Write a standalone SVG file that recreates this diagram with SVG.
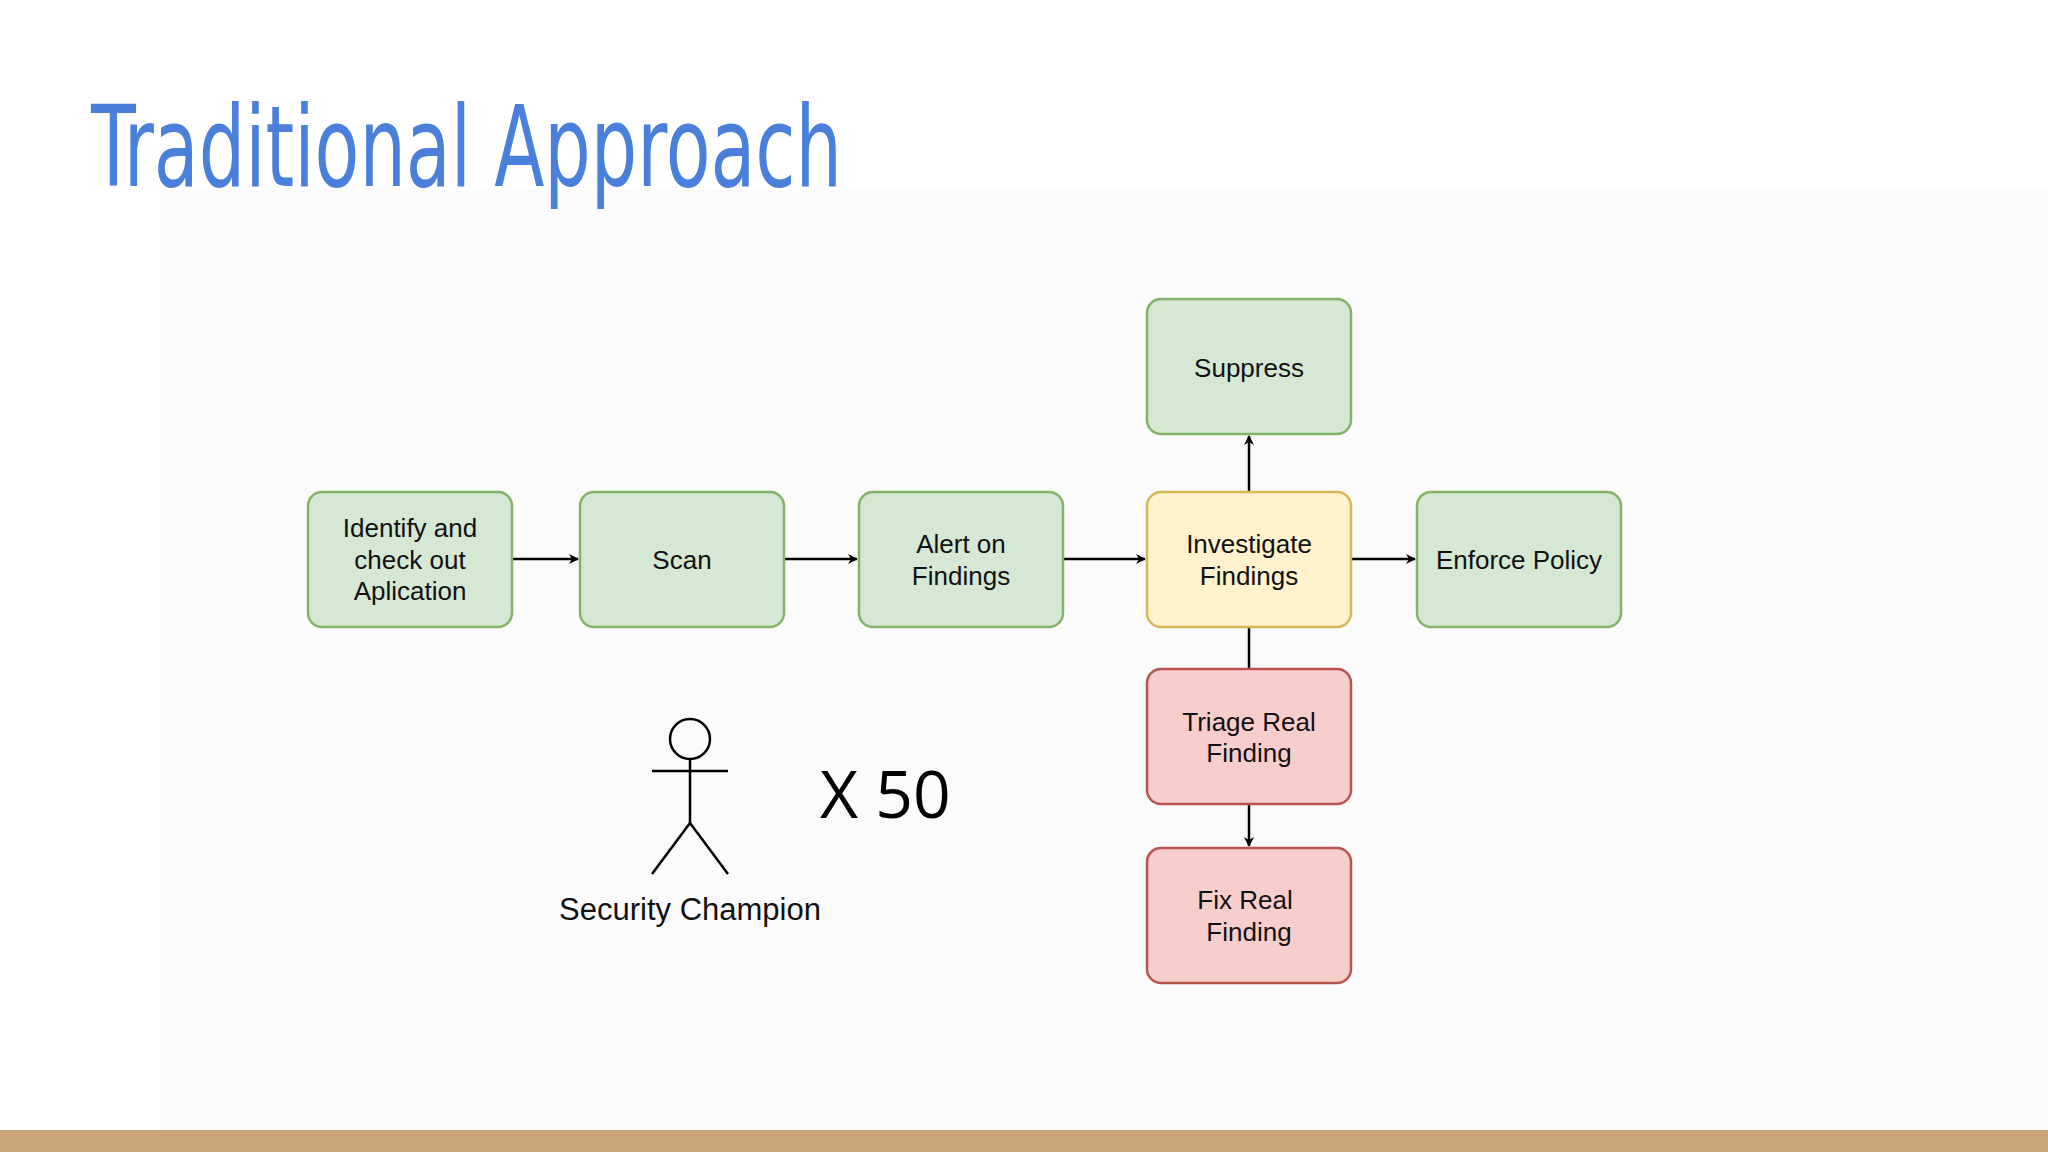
<svg xmlns="http://www.w3.org/2000/svg" width="2048" height="1152" viewBox="0 0 2048 1152">
<defs>
<style>
.g{fill:#d5e8d4;stroke:#82b366;stroke-width:2.5}
.y{fill:#fff2cc;stroke:#d6b656;stroke-width:2.5}
.r{fill:#f8cecc;stroke:#b85450;stroke-width:2.5}
.t{font-family:"Liberation Sans",Arial,sans-serif;font-size:26px;fill:#111;text-anchor:middle}
.c{stroke:#000;stroke-width:2.5;fill:none}
</style>
<marker id="a" markerWidth="10" markerHeight="10" refX="9" refY="5" orient="auto" markerUnits="userSpaceOnUse" viewBox="0 0 10 10"><path d="M0,0 L10,5 L0,10 L3,5 Z" fill="#000"/></marker>
</defs>
<rect width="2048" height="1152" fill="#fff"/>
<rect x="160" y="190" width="1888" height="940" fill="#fbfbfb"/>
<rect x="0" y="1130" width="2048" height="22" fill="#c9a67a"/>
<text x="91" y="186" font-family="'DejaVu Sans Condensed','DejaVu Sans',sans-serif" font-size="112" fill="#4a7fdc" textLength="751" lengthAdjust="spacingAndGlyphs">Traditional Approach</text>
<g id="connectors">
<line class="c" x1="512" y1="559" x2="578" y2="559" marker-end="url(#a)"/>
<line class="c" x1="784" y1="559" x2="857" y2="559" marker-end="url(#a)"/>
<line class="c" x1="1063" y1="559" x2="1145" y2="559" marker-end="url(#a)"/>
<line class="c" x1="1351" y1="559" x2="1415" y2="559" marker-end="url(#a)"/>
<line class="c" x1="1249" y1="492" x2="1249" y2="436" marker-end="url(#a)"/>
<line class="c" x1="1249" y1="627" x2="1249" y2="669"/>
<line class="c" x1="1249" y1="804" x2="1249" y2="846" marker-end="url(#a)"/>
</g>
<g id="identify"><rect class="g" x="308" y="492" width="204" height="135" rx="14"/><text class="t" x="410" y="537">Identify and</text><text class="t" x="410" y="569">check out</text><text class="t" x="410" y="600">Aplication</text></g>
<g id="scan"><rect class="g" x="580" y="492" width="204" height="135" rx="14"/><text class="t" x="682" y="569">Scan</text></g>
<g id="alert"><rect class="g" x="859" y="492" width="204" height="135" rx="14"/><text class="t" x="961" y="553">Alert on</text><text class="t" x="961" y="585">Findings</text></g>
<g id="investigate"><rect class="y" x="1147" y="492" width="204" height="135" rx="14"/><text class="t" x="1249" y="553">Investigate</text><text class="t" x="1249" y="585">Findings</text></g>
<g id="enforce"><rect class="g" x="1417" y="492" width="204" height="135" rx="14"/><text class="t" x="1519" y="569">Enforce Policy</text></g>
<g id="suppress"><rect class="g" x="1147" y="299" width="204" height="135" rx="14"/><text class="t" x="1249" y="377">Suppress</text></g>
<g id="triage"><rect class="r" x="1147" y="669" width="204" height="135" rx="14"/><text class="t" x="1249" y="731">Triage Real</text><text class="t" x="1249" y="762">Finding</text></g>
<g id="fix"><rect class="r" x="1147" y="848" width="204" height="135" rx="14"/><text class="t" x="1245" y="909">Fix Real</text><text class="t" x="1249" y="941">Finding</text></g>
<g id="champion" class="c">
<circle cx="690" cy="739" r="20"/>
<line x1="690" y1="759" x2="690" y2="823"/>
<line x1="652" y1="771" x2="728" y2="771"/>
<line x1="690" y1="823" x2="652" y2="874"/>
<line x1="690" y1="823" x2="728" y2="874"/>
</g>
<text class="t" x="690" y="920" font-size="31" style="font-size:31px">Security Champion</text>
<text x="820" y="818" font-family="'Open Sans',sans-serif" font-size="66" fill="#000">X 50</text>
</svg>
